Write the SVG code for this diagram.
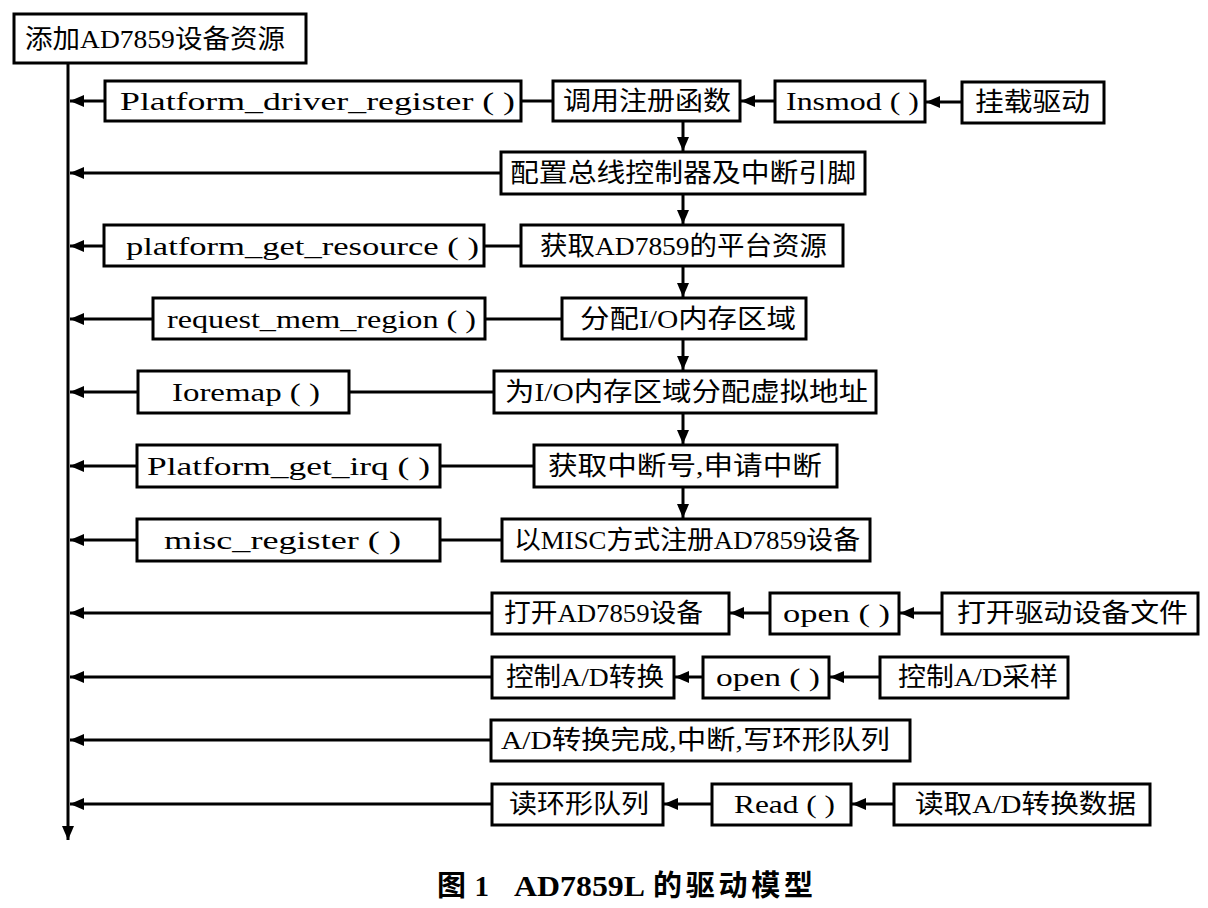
<svg xmlns="http://www.w3.org/2000/svg" width="1208" height="908" viewBox="0 0 1208 908">
<style>
.b{fill:#fff;stroke:#000;stroke-width:3}
.t{font-family:"Liberation Serif","Noto Sans CJK SC",serif;font-size:26px;fill:#000;dominant-baseline:central}
.c{stroke:#000;stroke-width:3;fill:none}
.cap{font-family:"Liberation Serif","Noto Sans CJK SC",serif;font-size:29px;font-weight:bold;fill:#000}
</style>
<defs>
<marker id="ah" viewBox="0 0 14 12" refX="14" refY="6" markerWidth="14" markerHeight="12" markerUnits="userSpaceOnUse" orient="auto"><path d="M0,0 L14,6 L0,12 z" fill="#000"/></marker>
</defs>
<rect width="1208" height="908" fill="#fff"/>
<g id="connectors">
<path class="c" d="M68,63 V840" marker-end="url(#ah)"/>
<path class="c" d="M105,101 H70" marker-end="url(#ah)"/>
<path class="c" d="M521,101 H553"/>
<path class="c" d="M775,101 H741" marker-end="url(#ah)"/>
<path class="c" d="M962,102 H926" marker-end="url(#ah)"/>
<path class="c" d="M683,121 V151" marker-end="url(#ah)"/>
<path class="c" d="M501,173 H70" marker-end="url(#ah)"/>
<path class="c" d="M683,194 V224" marker-end="url(#ah)"/>
<path class="c" d="M104,246 H70" marker-end="url(#ah)"/>
<path class="c" d="M484,246 H521"/>
<path class="c" d="M683,266 V297" marker-end="url(#ah)"/>
<path class="c" d="M153,319 H70" marker-end="url(#ah)"/>
<path class="c" d="M485,319 H562"/>
<path class="c" d="M683,339 V370" marker-end="url(#ah)"/>
<path class="c" d="M138,392 H70" marker-end="url(#ah)"/>
<path class="c" d="M349,392 H494"/>
<path class="c" d="M683,413 V444" marker-end="url(#ah)"/>
<path class="c" d="M137,466 H70" marker-end="url(#ah)"/>
<path class="c" d="M440,466 H534"/>
<path class="c" d="M683,487 V518" marker-end="url(#ah)"/>
<path class="c" d="M137,540 H70" marker-end="url(#ah)"/>
<path class="c" d="M440,540 H502"/>
<path class="c" d="M492,613 H70" marker-end="url(#ah)"/>
<path class="c" d="M770,613 H730" marker-end="url(#ah)"/>
<path class="c" d="M942,613 H900" marker-end="url(#ah)"/>
<path class="c" d="M492,677 H70" marker-end="url(#ah)"/>
<path class="c" d="M703,677 H675" marker-end="url(#ah)"/>
<path class="c" d="M880,677 H830" marker-end="url(#ah)"/>
<path class="c" d="M491,740 H70" marker-end="url(#ah)"/>
<path class="c" d="M492,804 H70" marker-end="url(#ah)"/>
<path class="c" d="M712,804 H664" marker-end="url(#ah)"/>
<path class="c" d="M894,804 H852" marker-end="url(#ah)"/>
</g>
<g id="n0"><rect class="b" x="14" y="14" width="292" height="49"/><text class="t" x="25" y="39" textLength="260" lengthAdjust="spacingAndGlyphs">添加AD7859设备资源</text></g>
<g id="n1"><rect class="b" x="105" y="81" width="416" height="40"/><text class="t" x="120" y="101" textLength="395" lengthAdjust="spacingAndGlyphs">Platform_driver_register ( )</text></g>
<g id="n2"><rect class="b" x="553" y="81" width="187" height="40"/><text class="t" x="563" y="101" textLength="168" lengthAdjust="spacingAndGlyphs">调用注册函数</text></g>
<g id="n3"><rect class="b" x="775" y="81" width="150" height="41"/><text class="t" x="786" y="101" textLength="133" lengthAdjust="spacingAndGlyphs">Insmod ( )</text></g>
<g id="n4"><rect class="b" x="962" y="82" width="142" height="41"/><text class="t" x="975" y="102" textLength="115" lengthAdjust="spacingAndGlyphs">挂载驱动</text></g>
<g id="n5"><rect class="b" x="501" y="152" width="364" height="42"/><text class="t" x="510" y="173" textLength="346" lengthAdjust="spacingAndGlyphs">配置总线控制器及中断引脚</text></g>
<g id="n6"><rect class="b" x="104" y="225" width="380" height="41"/><text class="t" x="126" y="246" textLength="353" lengthAdjust="spacingAndGlyphs">platform_get_resource ( )</text></g>
<g id="n7"><rect class="b" x="521" y="225" width="322" height="41"/><text class="t" x="540" y="246" textLength="287" lengthAdjust="spacingAndGlyphs">获取AD7859的平台资源</text></g>
<g id="n8"><rect class="b" x="153" y="298" width="332" height="41"/><text class="t" x="167" y="319" textLength="309" lengthAdjust="spacingAndGlyphs">request_mem_region ( )</text></g>
<g id="n9"><rect class="b" x="562" y="298" width="244" height="41"/><text class="t" x="580" y="319" textLength="216" lengthAdjust="spacingAndGlyphs">分配I/O内存区域</text></g>
<g id="n10"><rect class="b" x="138" y="371" width="211" height="42"/><text class="t" x="172" y="392" textLength="148" lengthAdjust="spacingAndGlyphs">Ioremap ( )</text></g>
<g id="n11"><rect class="b" x="494" y="371" width="382" height="42"/><text class="t" x="505" y="392" textLength="363" lengthAdjust="spacingAndGlyphs">为I/O内存区域分配虚拟地址</text></g>
<g id="n12"><rect class="b" x="137" y="445" width="303" height="42"/><text class="t" x="147" y="466" textLength="283" lengthAdjust="spacingAndGlyphs">Platform_get_irq ( )</text></g>
<g id="n13"><rect class="b" x="534" y="445" width="303" height="42"/><text class="t" x="548" y="466" textLength="274" lengthAdjust="spacingAndGlyphs">获取中断号,申请中断</text></g>
<g id="n14"><rect class="b" x="137" y="519" width="303" height="42"/><text class="t" x="164" y="540" textLength="237" lengthAdjust="spacingAndGlyphs">misc_register ( )</text></g>
<g id="n15"><rect class="b" x="502" y="519" width="368" height="42"/><text class="t" x="514" y="540" textLength="346" lengthAdjust="spacingAndGlyphs">以MISC方式注册AD7859设备</text></g>
<g id="n16"><rect class="b" x="492" y="593" width="237" height="41"/><text class="t" x="504" y="613" textLength="199" lengthAdjust="spacingAndGlyphs">打开AD7859设备</text></g>
<g id="n17"><rect class="b" x="770" y="593" width="129" height="41"/><text class="t" x="783" y="613" textLength="107" lengthAdjust="spacingAndGlyphs">open ( )</text></g>
<g id="n18"><rect class="b" x="942" y="593" width="256" height="41"/><text class="t" x="957" y="613" textLength="231" lengthAdjust="spacingAndGlyphs">打开驱动设备文件</text></g>
<g id="n19"><rect class="b" x="492" y="657" width="182" height="41"/><text class="t" x="506" y="677" textLength="158" lengthAdjust="spacingAndGlyphs">控制A/D转换</text></g>
<g id="n20"><rect class="b" x="703" y="657" width="126" height="41"/><text class="t" x="716" y="677" textLength="104" lengthAdjust="spacingAndGlyphs">open ( )</text></g>
<g id="n21"><rect class="b" x="880" y="657" width="188" height="41"/><text class="t" x="898" y="677" textLength="160" lengthAdjust="spacingAndGlyphs">控制A/D采样</text></g>
<g id="n22"><rect class="b" x="491" y="720" width="419" height="41"/><text class="t" x="501" y="740" textLength="389" lengthAdjust="spacingAndGlyphs">A/D转换完成,中断,写环形队列</text></g>
<g id="n23"><rect class="b" x="492" y="784" width="171" height="41"/><text class="t" x="509" y="804" textLength="140" lengthAdjust="spacingAndGlyphs">读环形队列</text></g>
<g id="n24"><rect class="b" x="712" y="784" width="139" height="41"/><text class="t" x="734" y="804" textLength="101" lengthAdjust="spacingAndGlyphs">Read ( )</text></g>
<g id="n25"><rect class="b" x="894" y="784" width="256" height="41"/><text class="t" x="915" y="804" textLength="221" lengthAdjust="spacingAndGlyphs">读取A/D转换数据</text></g>
<g id="caption">
<text class="cap" x="437" y="896" textLength="52" lengthAdjust="spacing">图 1</text>
<text class="cap" x="514" y="896" textLength="131" lengthAdjust="spacingAndGlyphs">AD7859L</text>
<text class="cap" x="653" y="896" textLength="160" lengthAdjust="spacing">的驱动模型</text>
</g>
</svg>
